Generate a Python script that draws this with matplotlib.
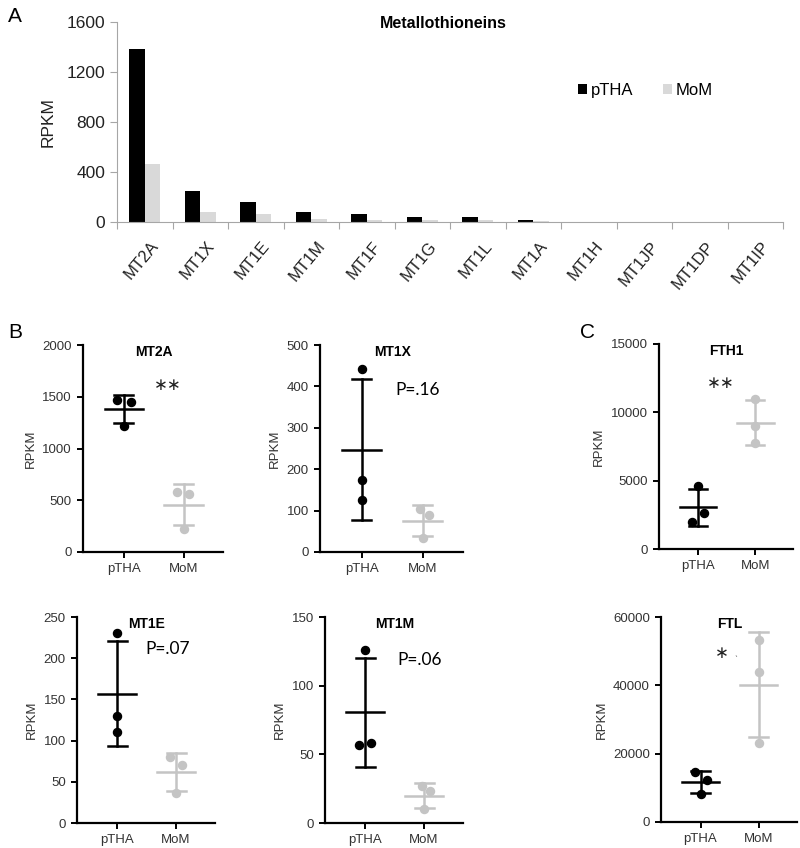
import matplotlib; matplotlib.use("Agg")
import matplotlib.pyplot as plt
import numpy as np

plt.rcParams["font.family"] = ["Liberation Sans", "DejaVu Sans"]

# panel A: mean RPKM per metallothionein gene
genes = ["MT2A", "MT1X", "MT1E", "MT1M", "MT1F", "MT1G", "MT1L", "MT1A", "MT1H", "MT1JP", "MT1DP", "MT1IP"]
a_ptha = [1384, 248, 157, 83, 67, 40, 40, 19, 2, 1, 1, 1]
a_mom = [467, 77, 64, 21, 19, 13, 13, 5, 1, 0.5, 0.5, 0.5]

groups = ["pTHA", "MoM"]
# panels B/C: individual samples, mean, SD
mt2a_pts = [[1468, 1445, 1216], [584, 565, 219]]; mt2a_mean = [1380, 458]; mt2a_sd = [133, 201]
mt1x_pts = [[441, 173, 125], [103, 90, 35]]; mt1x_mean = [247, 76]; mt1x_sd = [170, 37]
fth1_pts = [[4627, 2630, 1972], [10982, 9010, 7792]]; fth1_mean = [3044, 9253]; fth1_sd = [1339, 1619]
mt1e_pts = [[231, 130, 111], [80, 70, 36]]; mt1e_mean = [157, 62]; mt1e_sd = [64, 23]
mt1m_pts = [[126, 57, 58], [27, 23.5, 10]]; mt1m_mean = [80.5, 20]; mt1m_sd = [40, 9]
ftl_pts = [[14780, 12240, 8220], [53350, 43950, 23200]]; ftl_mean = [11750, 40140]; ftl_sd = [3280, 15365]

W, H = 800, 848
fig = plt.figure(figsize=(W / 100, H / 100), dpi=100)
def rect(x0, y0, x1, y1): return [x0 / W, 1 - y1 / H, (x1 - x0) / W, (y1 - y0) / H]

# ---- A
GR = "#a6a6a6"
ax = fig.add_axes(rect(117, 22, 783, 222))
x = np.arange(len(genes)) + 0.5
ax.bar(x - 0.14, a_ptha, 0.28, color="black", label="pTHA")
ax.bar(x + 0.14, a_mom, 0.28, color="#d9d9d9", label="MoM")
ax.set_xlim(0, len(genes)); ax.set_ylim(0, 1600)
ax.set_yticks([0, 400, 800, 1200, 1600])
ax.set_xticks(np.arange(len(genes) + 1)); ax.set_xticklabels([])
ax.set_xticks(x + 0.1, minor=True); ax.set_xticklabels(genes, minor=True, rotation=50, ha="right", rotation_mode="anchor", fontsize=12, color="#222")
ax.tick_params(axis="x", which="minor", length=0, pad=12)
ax.tick_params(axis="x", which="major", length=5, color=GR, direction="out")
ax.tick_params(axis="y", length=5, color=GR, labelsize=12.5, labelcolor="#222")
for s in ["top", "right"]: ax.spines[s].set_visible(False)
for s in ["left", "bottom"]: ax.spines[s].set_color(GR)
ax.set_ylabel("RPKM", fontsize=12.5, labelpad=8, color="#222")
ax.set_title("Metallothioneins", fontsize=11.5, fontweight="bold", y=0.93, x=0.49)
ax.legend(loc="upper left", bbox_to_anchor=(0.67, 0.77), ncol=2, frameon=False, fontsize=12, handlelength=0.5, handleheight=0.6, handletextpad=0.25, columnspacing=1.8)
fig.text(8 / W, 1 - 16 / H, "A", fontsize=15, va="center")

# ---- B / C scatter panels
BLK, GRY = "#000000", "#c4c4c4"
def dotplot(r, title, pts, mean, sd, ylim, yt, jit, note, note_xy, note_font):
    ax = fig.add_axes(rect(*r))
    for i, c in enumerate([BLK, GRY]):
        ax.plot([i + j for j in jit[i]], pts[i], "o", color=c, ms=5.8, zorder=3)
        ax.plot([i - 0.32, i + 0.32], [mean[i]] * 2, color=c, lw=1.8)
        ax.plot([i, i], [mean[i] - sd[i], mean[i] + sd[i]], color=c, lw=1.8)
        for v in (mean[i] - sd[i], mean[i] + sd[i]):
            ax.plot([i - 0.16, i + 0.16], [v, v], color=c, lw=1.8)
    ax.set_xlim(-0.68, 1.66); ax.set_ylim(*ylim); ax.set_yticks(yt)
    ax.set_xticks([0, 1]); ax.set_xticklabels(groups)
    for s in ["top", "right"]: ax.spines[s].set_visible(False)
    for s in ["left", "bottom"]: ax.spines[s].set_linewidth(1.6)
    ax.tick_params(length=4.5, width=1.4, labelsize=9.5, labelcolor="#333")
    ax.set_ylabel("RPKM", fontsize=9.5, color="#333")
    ax.text(0.5, 0.965, title, transform=ax.get_xaxis_transform(), ha="center", va="center", fontsize=10, fontweight="bold")
    if note_font == "p":
        ax.text(*note_xy, note, ha="center", va="center", fontsize=12.5, family=["Lato", "DejaVu Sans"])
    else:
        ax.text(*note_xy, note, ha="center", va="center", fontsize=12, color="#222", family=["DejaVu Sans"])
    return ax

dotplot((83, 345, 223, 552), "MT2A", mt2a_pts, mt2a_mean, mt2a_sd, (0, 2000), range(0, 2001, 500),
        [[-0.11, 0.12, 0], [-0.11, 0.1, 0]], "∗∗", (0.73, 1610), "s")
dotplot((320, 345, 463, 552), "MT1X", mt1x_pts, mt1x_mean, mt1x_sd, (0, 500), range(0, 501, 100),
        [[0, 0, 0], [-0.04, 0.1, 0]], "P=.16", (0.92, 391), "p")
dotplot((659, 344, 793, 549), "FTH1", fth1_pts, fth1_mean, fth1_sd, (0, 15000), range(0, 15001, 5000),
        [[0, 0.11, -0.1], [0, 0, 0]], "∗∗", (0.4, 12150), "s")
dotplot((77, 617, 215, 823), "MT1E", mt1e_pts, mt1e_mean, mt1e_sd, (0, 250), range(0, 251, 50),
        [[0, 0, 0], [-0.11, 0.1, 0]], "P=.07", (0.86, 211), "p")
dotplot((325, 617, 463, 823), "MT1M", mt1m_pts, mt1m_mean, mt1m_sd, (0, 150), range(0, 151, 50),
        [[0, -0.1, 0.1], [-0.04, 0.1, 0]], "P=.06", (0.93, 119), "p")
ax = dotplot((661, 617, 797, 822), "FTL", ftl_pts, ftl_mean, ftl_sd, (0, 60000), range(0, 60001, 20000),
        [[-0.1, 0.11, 0], [0, 0, 0]], "∗", (0.36, 49500), "s")
ax.text(0.61, 49750, "ˎ", ha="center", va="center", fontsize=7, color="#666")

fig.text(8 / W, 1 - 333 / H, "B", fontsize=15, va="center")
fig.text(580 / W, 1 - 333 / H, "C", fontsize=15, va="center")
fig.savefig("out.png", dpi=100)
